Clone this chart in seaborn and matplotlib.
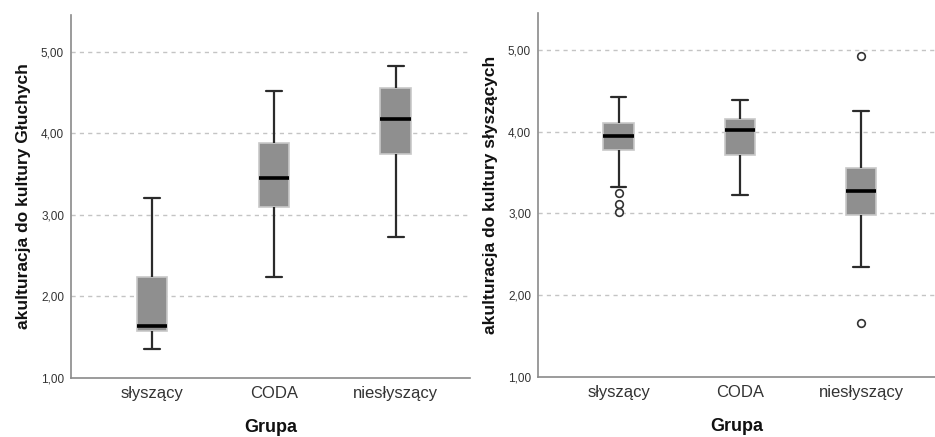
import matplotlib
matplotlib.use("Agg")
import matplotlib.pyplot as plt
import seaborn as sns
import pandas as pd
from matplotlib.ticker import FuncFormatter

# Group order (x-axis categories)
groups = ["słyszący", "CODA", "niesłyszący"]

# Observations read back from the box plots (values chosen to reproduce
# whiskers, quartiles, medians and outliers shown in the reference)
deaf_culture_slyszacy = [1.35, 1.50, 1.577, 1.60, 1.64, 1.90, 2.235, 2.70, 3.21]
deaf_culture_coda = [2.24, 2.80, 3.10, 3.30, 3.45, 3.65, 3.88, 4.20, 4.52]
deaf_culture_nieslyszacy = [2.73, 3.40, 3.75, 4.00, 4.17, 4.40, 4.56, 4.70, 4.82]

hearing_culture_slyszacy = [3.02, 3.12, 3.25, 3.32, 3.78, 3.85, 3.90, 3.93, 3.95,
                            4.00, 4.05, 4.08, 4.105, 4.20, 4.30, 4.38, 4.42]
hearing_culture_coda = [3.23, 3.50, 3.72, 3.90, 4.02, 4.10, 4.15, 4.30, 4.385]
hearing_culture_nieslyszacy = [1.665, 2.35, 2.70, 2.975, 3.10, 3.20, 3.27, 3.40,
                               3.50, 3.56, 3.90, 4.25, 4.93]

y_ticks = [1, 2, 3, 4, 5]
y_label_left = "akulturacja do kultury Głuchych"
y_label_right = "akulturacja do kultury słyszących"
x_label = "Grupa"


def make_df(a, b, c):
    rows = []
    for g, vals in zip(groups, [a, b, c]):
        rows += [(g, v) for v in vals]
    return pd.DataFrame(rows, columns=["Grupa", "value"])


df_left = make_df(deaf_culture_slyszacy, deaf_culture_coda, deaf_culture_nieslyszacy)
df_right = make_df(hearing_culture_slyszacy, hearing_culture_coda, hearing_culture_nieslyszacy)

sns.set_theme(style="white")
plt.rcParams["font.family"] = ["Liberation Sans", "DejaVu Sans"]

fig = plt.figure(figsize=(9.35, 4.37), dpi=100)
ax1 = fig.add_axes([71 / 935, 59 / 437, 399 / 935, 363 / 437])
ax2 = fig.add_axes([538 / 935, 60 / 437, 397 / 935, 364 / 437])

fmt = FuncFormatter(lambda v, p: f"{v:.2f}".replace(".", ","))

for ax, df, ylab in [(ax1, df_left, y_label_left), (ax2, df_right, y_label_right)]:
    sns.boxplot(
        data=df, x="Grupa", y="value", order=groups, ax=ax,
        width=0.25, whis=1.5,
        color="#8f8f8f", saturation=1,
        boxprops=dict(facecolor="#8f8f8f", edgecolor="#c8c8c8", linewidth=1.2),
        whiskerprops=dict(color="#2b2b2b", linewidth=1.6),
        capprops=dict(color="#2b2b2b", linewidth=1.6),
        medianprops=dict(color="black", linewidth=2.6),
        flierprops=dict(marker="o", markersize=5.5, markerfacecolor="white",
                        markeredgecolor="#333333", markeredgewidth=1.2),
        capwidths=0.13,
        zorder=3,
    )
    ax.set_ylim(1, 5.45)
    ax.set_xlim(-0.665, 2.61)
    ax.set_yticks(y_ticks)
    ax.yaxis.set_major_formatter(fmt)
    for yv in y_ticks[1:]:
        ax.axhline(yv, color="#c4c4c4", linestyle=(0, (3, 3)), linewidth=1.0, zorder=0)
    for s in ["top", "right"]:
        ax.spines[s].set_visible(False)
    for s in ["left", "bottom"]:
        ax.spines[s].set_color("#8a8a8a")
        ax.spines[s].set_linewidth(1.2)
    ax.tick_params(axis="y", length=0, pad=5, labelsize=8.5, labelcolor="#333333")
    ax.tick_params(axis="x", length=0, pad=6, labelsize=12, labelcolor="#333333")
    ax.set_ylabel(ylab, fontsize=12.5, fontweight="bold", color="#111111", labelpad=7)
    ax.set_xlabel(x_label, fontsize=13, fontweight="bold", color="#111111", labelpad=13)

fig.savefig("out.png", dpi=100)
